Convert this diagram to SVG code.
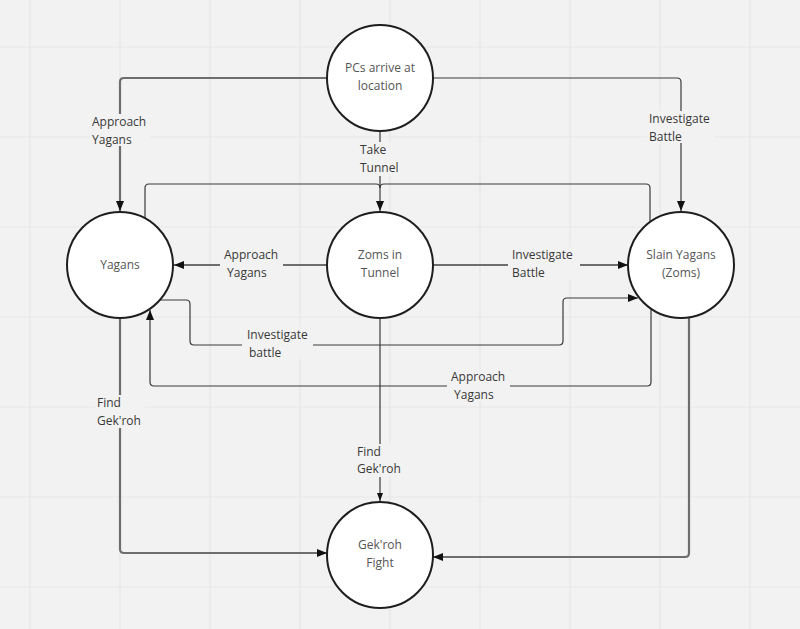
<svg xmlns="http://www.w3.org/2000/svg" width="800" height="629" viewBox="0 0 800 629">
<defs>
<style>
.grid{stroke:#e7e7e7;stroke-width:1.2}
.node circle{fill:#fff;stroke:#1e1e1e;stroke-width:2}
.nt{font-family:"Open Sans","DejaVu Sans",sans-serif;font-size:12px;fill:#555;text-anchor:middle}
.c{fill:none;stroke:#3a3a3a;stroke-width:1.2}
.ct{fill:none;stroke:#6e6e6e;stroke-width:2.2}
.lbl{font-family:"Open Sans","DejaVu Sans",sans-serif;font-size:12px;fill:#383838}
.bg{fill:#f2f2f2}
</style>
<marker id="arr" viewBox="0 0 10 8" refX="10" refY="4" markerWidth="10" markerHeight="8" markerUnits="userSpaceOnUse" orient="auto">
<path d="M0,0 L10,4 L0,8 z" fill="#111"/>
</marker>
<marker id="arrs" viewBox="0 0 8 6" refX="8" refY="3" markerWidth="8" markerHeight="6" markerUnits="userSpaceOnUse" orient="auto">
<path d="M0,0 L8,3 L0,6 z" fill="#111"/>
</marker>
</defs>
<rect width="800" height="629" fill="#f2f2f2"/>
<g id="grid">
<path class="grid" d="M30,0V629M120,0V629M210,0V629M300,0V629M390,0V629M480,0V629M570,0V629M660,0V629M750,0V629M0,47H800M0,137H800M0,227H800M0,317H800M0,407H800M0,497H800M0,587H800"/>
</g>
<g id="connectors">
<path class="ct" d="M327,78 H124 Q120,78 120,82 V211" marker-end="url(#arr)"/>
<path class="c" d="M433,78 H677 Q681,78 681,82 V211" marker-end="url(#arr)"/>
<path class="c" d="M380,132 V211" marker-end="url(#arr)"/>
<path class="c" d="M145,220 V188 Q145,184 149,184 H376 Q380,184 380,188"/>
<path class="c" d="M650,222 V188 Q650,184 646,184 H384 Q380,184 380,188"/>
<path class="ct" d="M327,265 H174" marker-end="url(#arr)"/>
<path class="ct" d="M433,265 H628" marker-end="url(#arr)"/>
<path class="c" d="M160,300 H186 Q190,300 190,304 V341 Q190,345 194,345 H559 Q563,345 563,341 V302 Q563,298 567,298 H638" marker-end="url(#arr)"/>
<path class="c" d="M651,309 V382 Q651,386 647,386 H154 Q150,386 150,382 V310" marker-end="url(#arr)"/>
<path class="c" d="M380,318 V501" marker-end="url(#arrs)"/>
<path class="ct" d="M120,318 V549 Q120,553 124,553 H327" marker-end="url(#arr)"/>
<path class="ct" d="M689,316 V553 Q689,557 685,557 H433" marker-end="url(#arr)"/>
</g>
<g id="labels">
<rect class="bg" x="90" y="114" width="60" height="32"/>
<text class="lbl" x="92" y="126">Approach</text><text class="lbl" x="92" y="144">Yagans</text>
<rect class="bg" x="647" y="111" width="67" height="32"/>
<text class="lbl" x="649" y="123">Investigate</text><text class="lbl" x="649" y="141">Battle</text>
<rect class="bg" x="358" y="142" width="44" height="34"/>
<text class="lbl" x="360" y="154">Take</text><text class="lbl" x="360" y="172">Tunnel</text>
<rect class="bg" x="220" y="247" width="63" height="32"/>
<text class="lbl" x="224" y="259">Approach</text><text class="lbl" x="227" y="277">Yagans</text>
<rect class="bg" x="508" y="247" width="72" height="32"/>
<text class="lbl" x="512" y="259">Investigate</text><text class="lbl" x="512" y="277">Battle</text>
<rect class="bg" x="242" y="327" width="71" height="32"/>
<text class="lbl" x="247" y="339">Investigate</text><text class="lbl" x="249" y="357">battle</text>
<rect class="bg" x="447" y="369" width="63" height="32"/>
<text class="lbl" x="451" y="381">Approach</text><text class="lbl" x="454" y="399">Yagans</text>
<rect class="bg" x="355" y="444" width="50" height="33"/>
<text class="lbl" x="357" y="456">Find</text><text class="lbl" x="357" y="473">Gek'roh</text>
<rect class="bg" x="95" y="395" width="50" height="33"/>
<text class="lbl" x="97" y="407">Find</text><text class="lbl" x="97" y="425">Gek'roh</text>
</g>
<g id="node-pcs" class="node"><circle cx="380" cy="78" r="53"/><text class="nt" x="380" y="72">PCs arrive at</text><text class="nt" x="380" y="90">location</text></g>
<g id="node-yagans" class="node"><circle cx="120" cy="265" r="53"/><text class="nt" x="120" y="269">Yagans</text></g>
<g id="node-zoms" class="node"><circle cx="380" cy="265" r="53"/><text class="nt" x="380" y="259">Zoms in</text><text class="nt" x="380" y="277">Tunnel</text></g>
<g id="node-slain" class="node"><circle cx="681" cy="265" r="53"/><text class="nt" x="681" y="259">Slain Yagans</text><text class="nt" x="681" y="277">(Zoms)</text></g>
<g id="node-gekroh" class="node"><circle cx="380" cy="555" r="53"/><text class="nt" x="380" y="549">Gek'roh</text><text class="nt" x="380" y="567">Fight</text></g>
</svg>
